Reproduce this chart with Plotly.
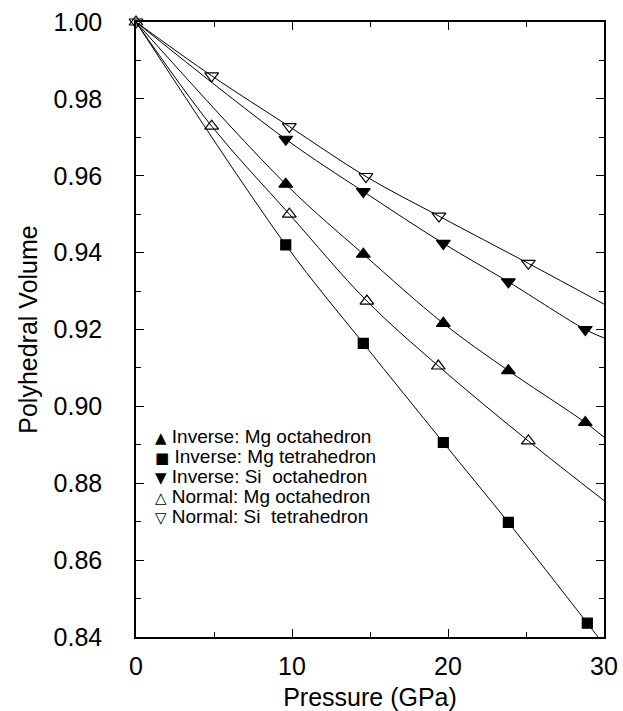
import plotly.graph_objects as go

# Data (origin point shared by all series)
p0, v0 = 0, 1.000
p_ns = [0, 4.85, 9.83, 14.74, 19.42, 25.15]
v_ns = [1.000, 0.986, 0.9728, 0.9598, 0.9495, 0.9372]
p_no_mg = [0, 4.85, 9.83, 14.8, 19.38, 25.15]
v_no_mg = [1.000, 0.9729, 0.9500, 0.9274, 0.9105, 0.8910]
p_io_si = [9.6, 14.57, 19.7, 23.87, 28.8]
v_io_si = [0.9695, 0.9559, 0.9424, 0.9324, 0.9200]
p_io_mg = [9.6, 14.57, 19.7, 23.87, 28.8]
v_io_mg = [0.9578, 0.9396, 0.9216, 0.9093, 0.8958]
p_it_mg = [9.6, 14.57, 19.7, 23.87, 28.93]
v_it_mg = [0.9420, 0.9164, 0.8906, 0.8698, 0.8436]

# Fit-curve end values at 30 GPa
p_end = 30
v_end = {"io_mg": 0.892, "it_mg": 0.838, "io_si": 0.9178, "no_mg": 0.8755, "ns": 0.9266}

legend_symbols = ["\u25B2", "\u25A0", "\u25BC", "\u25B3", "\u25BD"]
legend_names = ["Inverse: Mg octahedron", "Inverse: Mg tetrahedron",
                "Inverse: Si\u00a0 octahedron", "Normal: Mg octahedron",
                "Normal: Si\u00a0 tetrahedron"]

series = [
    ("io_mg", p_io_mg, v_io_mg, "triangle-up", 12),
    ("it_mg", p_it_mg, v_it_mg, "square", 10),
    ("io_si", p_io_si, v_io_si, "triangle-down", 12),
    ("no_mg", p_no_mg, v_no_mg, "triangle-up-open", 12),
    ("ns", p_ns, v_ns, "triangle-down-open", 12),
]

fig = go.Figure()
for key, px, vy, sym, sz in series:
    lx = px if px[0] == p0 else [p0] + px
    ly = vy if px[0] == p0 else [v0] + vy
    fig.add_trace(go.Scatter(
        x=lx + [p_end], y=ly + [v_end[key]], mode="lines",
        line=dict(color="black", width=1, shape="spline", smoothing=1.0),
        showlegend=False, hoverinfo="skip"))
for (key, px, vy, sym, sz), name in zip(series, legend_names):
    fig.add_trace(go.Scatter(
        x=px, y=vy, mode="markers", name=name, cliponaxis=False,
        showlegend=False,
        marker=dict(symbol=sym, size=sz, color="black",
                    line=dict(color="black", width=1.2))))

font_family = "Liberation Sans, Arial, Helvetica, sans-serif"
axis_common = dict(
    showgrid=False, zeroline=False, showline=True, linecolor="black",
    linewidth=1.5, mirror="allticks", ticks="inside", ticklen=8,
    tickcolor="black", tickwidth=1.2, automargin=False,
    tickfont=dict(family=font_family, size=25, color="black"),
)
fig.update_xaxes(
    range=[0, 30], dtick=10, tick0=0,
    minor=dict(dtick=5, ticks="inside", ticklen=5, tickcolor="black"),
    title=dict(text="Pressure (GPa)", font=dict(family=font_family, size=25, color="black"), standoff=18),
    ticklabelstandoff=6,
    **axis_common)
fig.update_yaxes(
    range=[0.84, 1.0], dtick=0.02, tick0=0.84, tickformat=".2f",
    minor=dict(dtick=0.01, ticks="inside", ticklen=5, tickcolor="black"),
    title=dict(text="Polyhedral Volume", font=dict(family=font_family, size=25, color="black"), standoff=9),
    ticklabelstandoff=27,
    **axis_common)

# Legend drawn as text lines inside the plot area
sym_style = "font-family:'DejaVu Sans';font-size:15px"
for i, (s, n) in enumerate(zip(legend_symbols, legend_names)):
    fig.add_annotation(
        xref="paper", yref="paper", x=0.036, y=0.3257 - i * 0.0325,
        xanchor="left", yanchor="middle", showarrow=False,
        text="<span style=\"" + sym_style + "\">" + s + "</span> " + n,
        font=dict(family=font_family, size=19, color="black"))

fig.update_layout(
    width=623, height=711,
    margin=dict(l=136, r=19, t=22, b=74),
    paper_bgcolor="white", plot_bgcolor="white",
    font=dict(family=font_family, color="black"),
    showlegend=False,
)

fig.write_html("out.html")
